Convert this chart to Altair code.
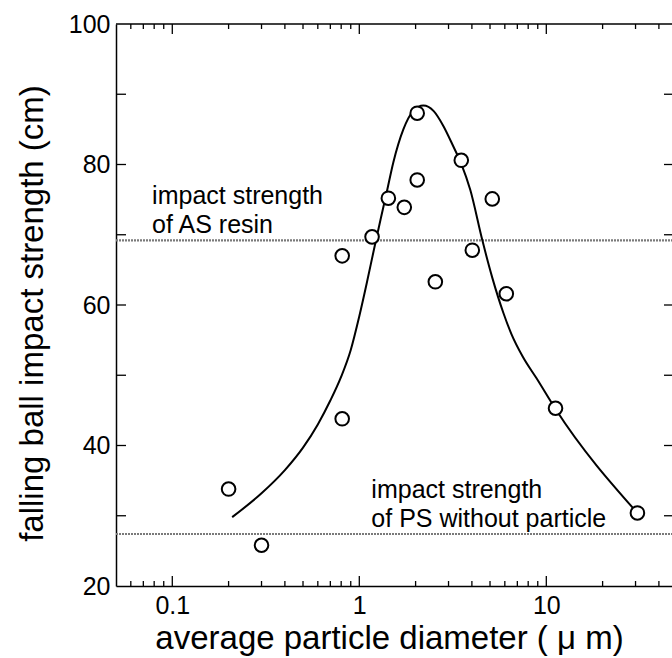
import altair as alt
import pandas as pd

# ---- data ----
diam = [0.2, 0.3, 0.81, 0.81, 1.17, 1.43, 1.74, 2.04, 2.04, 2.55, 3.51, 4.02, 5.14, 6.11, 11.2, 30.7]
strength = [33.8, 25.8, 67.0, 43.8, 69.7, 75.2, 73.9, 87.3, 77.8, 63.3, 80.6, 67.8, 75.1, 61.6, 45.3, 30.4]

curve_x = [0.209, 0.3, 0.4, 0.5, 0.6, 0.7, 0.8, 0.9, 1.0, 1.1, 1.2, 1.3, 1.4, 1.52,
           1.72, 1.94, 2.2, 2.5, 2.8, 3.18, 3.51, 3.92, 4.55, 5.14, 5.89, 6.5,
           7.5, 8.85, 11.2, 30.7]
curve_y = [29.8, 33.2, 36.5, 39.7, 43.0, 46.4, 49.8, 53.6, 58.4, 63.3, 68.0, 72.2, 76.0, 80.3,
           85.0, 87.6, 88.4, 87.6, 85.6, 82.6, 80.1, 76.4, 69.2, 63.9, 58.9, 55.9,
           52.6, 49.6, 45.2, 30.4]

ref_y = [69.2, 27.4]

ann_text = ["impact strength", "of AS resin", "impact strength", "of PS without particle"]
ann_x = [0.078, 0.078, 1.16, 1.16]
ann_y = [74.4, 70.25, 32.5, 28.4]

x_major = [0.1, 1, 10]
x_minor = [0.06, 0.07, 0.08, 0.09, 0.2, 0.3, 0.4, 0.5, 0.6, 0.7, 0.8, 0.9,
           2, 3, 4, 5, 6, 7, 8, 9, 20, 30, 40]
y_labels = [20, 40, 60, 80, 100]
y_ticks = [30, 40, 50, 60, 70, 80, 90]

X_DOMAIN = [0.05, 47.0]
Y_DOMAIN = [20, 100]
W, H = 556, 562
FONT = "Liberation Sans"

xs = alt.Scale(type="log", domain=X_DOMAIN)
ys = alt.Scale(domain=Y_DOMAIN)

pts = pd.DataFrame({"d": diam, "s": strength})
crv = pd.DataFrame({"d": curve_x, "s": curve_y})
refs = pd.DataFrame({"s": ref_y})
ann = pd.DataFrame({"t": ann_text, "d": ann_x, "s": ann_y})
xmaj = pd.DataFrame({"d": x_major})
xmin = pd.DataFrame({"d": x_minor})
yt = pd.DataFrame({"s": y_ticks})

x_axis = alt.Axis(
    values=x_major, format="~g", ticks=False, grid=False,
    domain=True, domainColor="black", domainWidth=1.5,
    labelFont=FONT, labelFontSize=25, labelColor="black", labelPadding=7,
    title="average particle diameter ( μ m)", titleFont=FONT, titleFontSize=33,
    titleFontWeight="normal", titleColor="black",
    titleX=273, titleY=62, titleBaseline="alphabetic", titleAlign="center",
)
y_axis = alt.Axis(
    values=y_labels, ticks=False, grid=False,
    domain=True, domainColor="black", domainWidth=1.5,
    labelFont=FONT, labelFontSize=25, labelColor="black", labelPadding=6,
    title="falling ball impact strength (cm)", titleFont=FONT, titleFontSize=33,
    titleFontWeight="normal", titleColor="black",
    titleX=-74, titleY=289, titleBaseline="alphabetic", titleAlign="center",
)

base_axes = alt.Chart(refs).mark_rule(
    color="#7a7a7a", strokeWidth=2.2, strokeDash=[2, 1]
).encode(
    x=alt.value(0), x2=alt.value(W),
    y=alt.Y("s:Q", scale=ys, axis=y_axis),
)

# invisible layer to carry the x axis
x_carrier = alt.Chart(crv).mark_point(opacity=0).encode(
    x=alt.X("d:Q", scale=xs, axis=x_axis),
    y=alt.Y("s:Q", scale=ys),
)

curve = alt.Chart(crv).mark_line(
    color="black", strokeWidth=2, interpolate="monotone"
).encode(
    x=alt.X("d:Q", scale=xs),
    y=alt.Y("s:Q", scale=ys),
)

points = alt.Chart(pts).mark_point(
    shape="circle", filled=True, fill="white", stroke="black",
    strokeWidth=2, size=185, opacity=1,
).encode(
    x=alt.X("d:Q", scale=xs),
    y=alt.Y("s:Q", scale=ys),
)

labels = alt.Chart(ann).mark_text(
    font=FONT, fontSize=25, color="black", align="left", baseline="alphabetic"
).encode(
    x=alt.X("d:Q", scale=xs),
    y=alt.Y("s:Q", scale=ys),
    text="t:N",
)

top_frame = alt.Chart(pd.DataFrame({"k": [0]})).mark_rule(
    color="black", strokeWidth=1.5
).encode(x=alt.value(0), x2=alt.value(W), y=alt.value(0))

tick_style = dict(color="black", strokeWidth=1.3)

bx_major = alt.Chart(xmaj).mark_rule(**tick_style).encode(
    x=alt.X("d:Q", scale=xs), y=alt.value(H), y2=alt.value(H - 10))
bx_minor = alt.Chart(xmin).mark_rule(**tick_style).encode(
    x=alt.X("d:Q", scale=xs), y=alt.value(H), y2=alt.value(H - 5))
tx_major = alt.Chart(xmaj).mark_rule(**tick_style).encode(
    x=alt.X("d:Q", scale=xs), y=alt.value(0), y2=alt.value(10))
tx_minor = alt.Chart(xmin).mark_rule(**tick_style).encode(
    x=alt.X("d:Q", scale=xs), y=alt.value(0), y2=alt.value(5))
ly = alt.Chart(yt).mark_rule(**tick_style).encode(
    y=alt.Y("s:Q", scale=ys), x=alt.value(0), x2=alt.value(10))
ry = alt.Chart(yt).mark_rule(**tick_style).encode(
    y=alt.Y("s:Q", scale=ys), x=alt.value(W - 8), x2=alt.value(W))

chart = alt.layer(
    base_axes, x_carrier, top_frame, bx_major, bx_minor, tx_major, tx_minor, ly, ry,
    curve, points, labels,
).properties(
    width=W, height=H,
    autosize=alt.AutoSizeParams(type="none"),
    padding={"left": 116, "top": 24, "right": 0, "bottom": 72},
    background="white",
).configure_view(stroke=None)

chart.save("out.html", embed_options={"renderer": "svg", "actions": False})
